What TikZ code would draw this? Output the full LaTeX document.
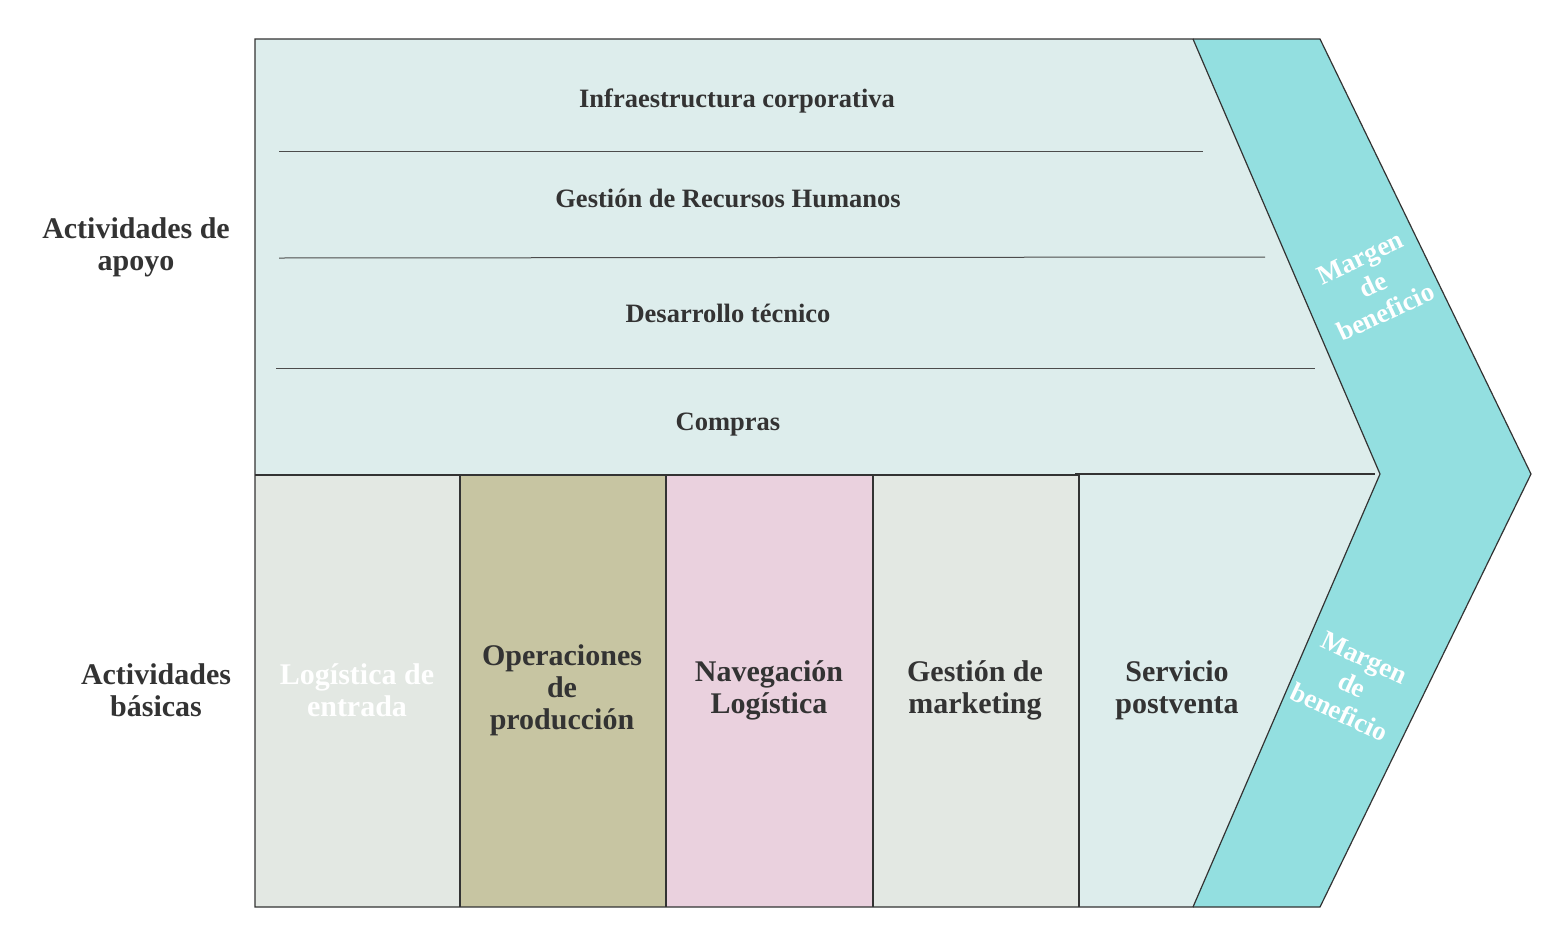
\documentclass[tikz,border=0pt]{standalone}
\usepackage{fontspec}
\setmainfont{Liberation Serif}
\begin{document}
\begin{tikzpicture}[x=1pt,y=-1pt,
  ln/.style={draw=black!80,line width=1.2pt},
  sep/.style={draw=black!70,line width=1pt},
  t/.style={text=black!80,font=\bfseries\fontsize{26.5}{30}\selectfont,align=center},
  b/.style={text=black!80,font=\bfseries\fontsize{30}{32}\selectfont,align=center},
  w/.style={text=white,font=\bfseries\fontsize{27}{30}\selectfont,align=center}]
\definecolor{lt}{HTML}{DDEDEC}
\definecolor{mg}{HTML}{93DFE0}
\useasboundingbox (0,0) rectangle (1567,943);
\fill[lt] (255,39)--(1193,39)--(1380,474)--(1193,907)--(255,907)--cycle;
\fill[mg] (1193,39)--(1320,39)--(1531,474)--(1320,907)--(1193,907)--(1380,474)--cycle;
\fill[fill=green!10!gray!20] (255,475) rectangle (460,907);
\fill[fill=green!10!gray!20] (873,475) rectangle (1079,907);
\fill[fill={rgb,255:red,199;green,197;blue,162}] (460,475) rectangle (666,907);
\fill[fill={rgb,255:red,234;green,209;blue,222}] (666,475) rectangle (873,907);
\draw[ln] (255,39)--(1193,39)--(1380,474)--(1193,907)--(255,907)--cycle;
\draw[ln] (1193,39)--(1320,39)--(1531,474)--(1320,907)--(1193,907);
\draw[ln] (255,475)--(1079,475);
\draw[ln] (1075,474)--(1375,474);
\foreach \x in {460,666,873,1079} \draw[ln] (\x,475)--(\x,907);
\draw[sep] (279,151)--(1203,151);
\draw[sep] (279,258)--(1265,257);
\draw[sep] (276,368)--(1315,368);
\node[t] (a) at (737,101) {Infraestructura corporativa};
\node[t] (b) at (728,198) {Gestión de Recursos Humanos};
\node[t] (c) at (728,313) {Desarrollo técnico};
\node[t] (d) at (728,425) {Compras};
\node[b] (s) at (136,247) {Actividades de\\apoyo};
\node[b] (p) at (156,690) {Actividades\\básicas};
\node[b,text=white] (e) at (357,690) {Logística de\\entrada};
\node[b] (f) at (562,690) {Operaciones\\de\\producción};
\node[b] (g) at (769,690) {Navegación\\Logística};
\node[b] (h) at (975,690) {Gestión de\\marketing};
\node[b] (i) at (1177,690) {Servicio\\postventa};
\node[w,rotate=25] (m1) at (1373,285) {Margen\\de\\beneficio};
\node[w,rotate=-25] (m2) at (1352,685) {Margen\\de\\beneficio};
\end{tikzpicture}
\end{document}
